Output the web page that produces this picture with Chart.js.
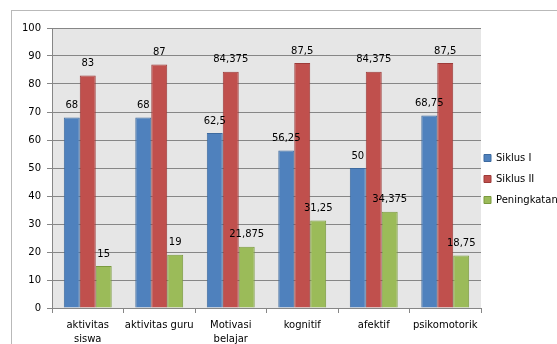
<!DOCTYPE html>
<html>
<head>
<meta charset="utf-8">
<script src="https://cdn.jsdelivr.net/npm/chart.js@4/dist/chart.umd.min.js"></script>
<style>
  html, body { margin: 0; padding: 0; background: #ffffff; }
  #wrap { width: 557px; height: 344px; }
</style>
</head>
<body>
<div id="wrap"><canvas id="c" width="557" height="344"></canvas></div>
<script>
// Categories (wrapped ones are given as separate lines)
const categories = [["aktivitas", "siswa"], "aktivitas guru", ["Motivasi", "belajar"], "kognitif", "afektif", "psikomotorik"];

// Series values
const siklusI = [68, 68, 62.5, 56.25, 50, 68.75];
const siklusII = [83, 87, 84.375, 87.5, 84.375, 87.5];
const peningkatan = [15, 19, 21.875, 31.25, 34.375, 18.75];

// Value axis
const yMin = 0;
const yMax = 100;
const yStep = 10;

const FONT = { family: "'DejaVu Sans', sans-serif", size: 10 };

// Page background, outer frame and grey plot area
const frameAndPlot = {
  id: 'frameAndPlot',
  beforeDraw(chart) {
    const { ctx, chartArea: a } = chart;
    ctx.save();
    ctx.fillStyle = '#ffffff';
    ctx.fillRect(0, 0, chart.width, chart.height);
    ctx.strokeStyle = '#b9b9b9';
    ctx.lineWidth = 1;
    ctx.strokeRect(11.5, 10.5, chart.width + 20, chart.height + 20);
    ctx.fillStyle = '#e6e6e6';
    ctx.fillRect(a.left, a.top, a.right - a.left, a.bottom - a.top);
    ctx.restore();
  }
};

// Value labels above each bar, decimal comma
const valueLabels = {
  id: 'valueLabels',
  afterDatasetsDraw(chart) {
    const { ctx } = chart;
    ctx.save();
    ctx.font = "10px 'DejaVu Sans', sans-serif";
    ctx.fillStyle = '#000000';
    ctx.textAlign = 'center';
    ctx.textBaseline = 'middle';
    chart.data.datasets.forEach((ds, i) => {
      const meta = chart.getDatasetMeta(i);
      meta.data.forEach((bar, j) => {
        const txt = String(ds.data[j]).replace('.', ',');
        ctx.fillText(txt, bar.x, bar.y - 12);
      });
    });
    ctx.restore();
  }
};

// Move the legend column a little left and up
const legendNudge = {
  id: 'legendNudge',
  afterLayout(chart) {
    const lg = chart.legend;
    if (lg) { lg.left -= 8; lg.top -= 7; lg.bottom -= 7; }
  }
};

new Chart(document.getElementById('c'), {
  type: 'bar',
  data: {
    labels: categories,
    datasets: [
      { label: 'Siklus I', data: siklusI, backgroundColor: '#4f81bd', borderColor: '#3d6a9f', borderWidth: 1 },
      { label: 'Siklus II', data: siklusII, backgroundColor: '#c0504d', borderColor: '#9d3b39', borderWidth: 1 },
      { label: 'Peningkatan', data: peningkatan, backgroundColor: '#9bbb59', borderColor: '#7a9a3e', borderWidth: 1 }
    ]
  },
  options: {
    responsive: false,
    animation: false,
    devicePixelRatio: 1,
    datasets: { bar: { barPercentage: 1, categoryPercentage: 0.67 } },
    layout: { padding: { top: 28, bottom: 0, left: 0, right: 0 } },
    plugins: {
      legend: {
        position: 'right',
        maxWidth: 76,
        labels: { boxWidth: 7, boxHeight: 7, padding: 11, color: '#000000', font: FONT }
      },
      tooltip: { enabled: false }
    },
    scales: {
      x: {
        afterFit(s) { s.height = 36; },
        grid: { drawOnChartArea: false, tickLength: 5, color: '#868686', offset: true },
        border: { color: '#868686' },
        ticks: { color: '#000000', font: { family: FONT.family, size: 10, lineHeight: 1.4 }, padding: 5, maxRotation: 0, autoSkip: false }
      },
      y: {
        min: yMin,
        max: yMax,
        afterFit(s) { s.width = 52; },
        grid: { color: '#868686', tickLength: 5 },
        border: { color: '#868686' },
        ticks: { stepSize: yStep, color: '#000000', font: FONT, padding: 6 }
      }
    }
  },
  plugins: [frameAndPlot, valueLabels, legendNudge]
});
</script>
</body>
</html>
